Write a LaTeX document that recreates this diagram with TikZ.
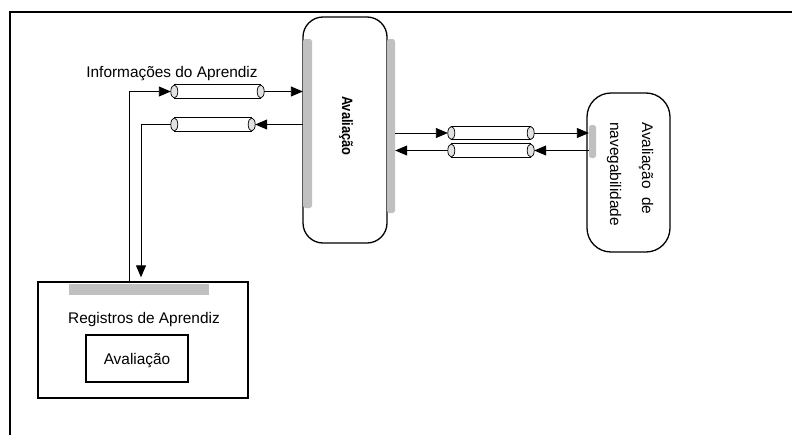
\documentclass[tikz,border=0pt]{standalone}
\usepackage{fontspec}
\setmainfont{Liberation Sans}
\usetikzlibrary{arrows.meta}
\definecolor{bargray}{HTML}{C0C0C0}
\definecolor{capgray}{HTML}{E2E2E2}
\newcommand\pipedraw[1]{%
  \fill[white] ([xshift=3.5pt]#1.north west) rectangle ([xshift=-3.5pt]#1.south east);
  \draw[line width=0.9pt] ([xshift=3.5pt]#1.north west) -- ([xshift=-3.5pt]#1.north east);
  \draw[line width=0.9pt] ([xshift=3.5pt]#1.south west) -- ([xshift=-3.5pt]#1.south east);
  \draw[line width=0.7pt, fill=capgray] ([xshift=3.5pt]#1.west) ellipse (3.5pt and 6.5pt);
  \draw[line width=0.7pt, fill=capgray] ([xshift=-3.5pt]#1.east) ellipse (3.5pt and 6.5pt);
}
\begin{document}
\begin{tikzpicture}[x=1pt,y=-1pt,
  txt/.style={font=\fontsize{15.4}{18}\selectfont, inner sep=0pt},
  pipe/.style={rectangle, inner sep=0pt, minimum height=13pt},
  graybar/.style={rectangle, fill=bargray, draw=none, inner sep=0pt, rounded corners=2.5pt},
  boxline/.style={draw, line width=1.3pt, inner sep=0pt},
  arr/.style={line width=0.9pt, -{Triangle[length=12pt,width=10pt]}},
  con/.style={line width=0.9pt}
]
\useasboundingbox (0,0) rectangle (792,434);
\fill[white] (0,0) rectangle (792,434);
% outer frame
\coordinate (frameTL) at (10,12);
\coordinate (frameTR) at (795,12);
\coordinate (frameBL) at (10,437);
\draw[line width=2pt] (frameBL) -- (frameTL) -- (frameTR);

% main Avaliacao box
\node[boxline, rounded corners=20pt, minimum width=84pt, minimum height=226pt] (main) at (345,130) {};
\node[graybar, minimum width=9pt, minimum height=169pt] (barL) at (307.5,123.5) {};
\node[graybar, minimum width=8pt, minimum height=174pt] (barR) at (391,126) {};
\node[font=\fontsize{15}{18}\selectfont\bfseries, inner sep=0pt, rotate=-90, anchor=base] (mainlabel) at (342,126) {\scalebox{0.86}[1]{Avaliação}};

% navegabilidade box
\node[boxline, rounded corners=24pt, minimum width=83pt, minimum height=159pt] (nav) at (628.5,172.5) {};
\node[graybar, minimum width=7pt, minimum height=33pt] (barN) at (592.5,141.5) {};
\node[txt, rotate=-90, anchor=base west] (navl1) at (642,122) {Avaliação\ \ de};
\node[txt, rotate=-90, anchor=base west] (navl2) at (610,122) {navegabilidade};

% Registros box
\node[boxline, minimum width=210pt, minimum height=116pt] (reg) at (143,340) {};
\node[graybar, rounded corners=0pt, minimum width=140pt, minimum height=11pt] (regbar) at (139,289) {};
\node[txt, anchor=base] (reglabel) at (144,323) {Registros de Aprendiz};
\node[boxline, minimum width=102pt, minimum height=47pt] (regin) at (137,358.5) {};
\node[txt, anchor=base] (reginlabel) at (137,364) {Avaliação};

% label
\node[txt, anchor=base] (info) at (172,77) {Informações do Aprendiz};

% pipes
\node[pipe, minimum width=93pt] (p1) at (217.5,91.5) {};
\node[pipe, minimum width=84pt] (p2) at (213,124.5) {};
\node[pipe, minimum width=86pt] (p3) at (491,133) {};
\node[pipe, minimum width=86pt] (p4) at (491,150.5) {};
\pipedraw{p1}
\pipedraw{p2}
\pipedraw{p3}
\pipedraw{p4}

% connectors left
\draw[arr] ([xshift=-14pt]reg.north) |- (p1.west);
\draw[arr] (p1.east) -- (p1.east -| barL.west);
\draw[arr] (p2.east -| barL.west) -- (p2.east);
\draw[arr, shorten >=4pt] (p2.west) -| ([xshift=-2pt]reg.north);
% connectors right
\draw[arr] (p3.west -| barR.east) -- (p3.west);
\draw[arr] (p3.east) -- (p3.east -| barN.west);
\draw[arr] (p4.east -| barN.west) -- (p4.east);
\draw[arr] (p4.west) -- (p4.west -| barR.east);
\end{tikzpicture}
\end{document}
